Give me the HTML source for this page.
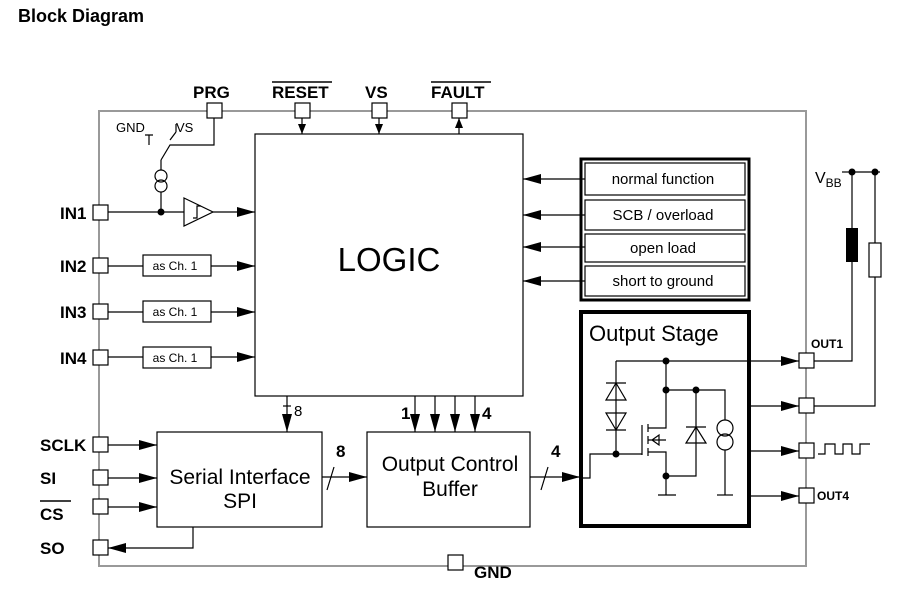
<!DOCTYPE html>
<html><head><style>body{margin:0;background:#fff}svg{display:block}text{font-family:"Liberation Sans",Arial,sans-serif}</style></head><body>
<svg width="921" height="608" viewBox="0 0 921 608" xmlns="http://www.w3.org/2000/svg">
<defs><marker id="a" markerWidth="10" markerHeight="8" refX="10" refY="4" orient="auto" markerUnits="userSpaceOnUse"><path d="M0,0L10,4L0,8z" fill="#000"/></marker>
<marker id="b" markerWidth="18" markerHeight="10" refX="18" refY="5" orient="auto" markerUnits="userSpaceOnUse"><path d="M0,0L18,5L0,10z" fill="#000"/></marker></defs>
<text x="18" y="22" font-size="18" font-weight="bold">Block Diagram</text>
<rect x="99" y="111" width="707" height="455" fill="none" stroke="#999" stroke-width="2"/>
<g font-weight="bold" font-size="17">
<text x="193" y="98">PRG</text><text x="272" y="98">RESET</text><text x="365" y="98">VS</text><text x="431" y="98">FAULT</text>
<text x="60" y="219">IN1</text><text x="60" y="272">IN2</text><text x="60" y="318">IN3</text><text x="60" y="364">IN4</text>
<text x="40" y="451">SCLK</text><text x="40" y="484">SI</text><text x="40" y="520">CS</text><text x="40" y="554">SO</text>
<text x="474" y="578">GND</text></g>
<g stroke="#000" stroke-width="1.5"><line x1="272" y1="82" x2="332" y2="82"/><line x1="431" y1="82" x2="491" y2="82"/><line x1="40" y1="501" x2="71" y2="501"/></g>
<g fill="#fff" stroke="#000" stroke-width="1.2">
<rect x="207" y="103" width="15" height="15"/><rect x="295" y="103" width="15" height="15"/><rect x="372" y="103" width="15" height="15"/><rect x="452" y="103" width="15" height="15"/>
<rect x="93" y="205" width="15" height="15"/><rect x="93" y="258" width="15" height="15"/><rect x="93" y="304" width="15" height="15"/><rect x="93" y="350" width="15" height="15"/>
<rect x="93" y="437" width="15" height="15"/><rect x="93" y="470" width="15" height="15"/><rect x="93" y="499" width="15" height="15"/><rect x="93" y="540" width="15" height="15"/>
<rect x="448" y="555" width="15" height="15"/>
<rect x="799" y="353" width="15" height="15"/><rect x="799" y="398" width="15" height="15"/><rect x="799" y="443" width="15" height="15"/><rect x="799" y="488" width="15" height="15"/>
<rect x="255" y="134" width="268" height="262"/>
<rect x="143" y="255" width="68" height="21"/><rect x="143" y="301" width="68" height="21"/><rect x="143" y="347" width="68" height="21"/>
<rect x="157" y="432" width="165" height="95"/><rect x="367" y="432" width="163" height="95"/>
<rect x="585" y="163" width="160" height="32"/><rect x="585" y="200" width="160" height="30"/><rect x="585" y="234" width="160" height="28"/><rect x="585" y="266" width="160" height="30"/>
</g>
<rect x="581" y="159" width="168" height="141" fill="none" stroke="#000" stroke-width="3"/>
<rect x="581" y="312" width="168" height="214" fill="none" stroke="#000" stroke-width="4"/>
<text x="389" y="271" font-size="33" text-anchor="middle">LOGIC</text>
<g font-size="15" text-anchor="middle"><text x="663" y="184">normal function</text><text x="663" y="220">SCB / overload</text><text x="663" y="253">open load</text><text x="663" y="286">short to ground</text></g>
<g font-size="12" text-anchor="middle"><text x="175" y="270">as Ch. 1</text><text x="175" y="316">as Ch. 1</text><text x="175" y="362">as Ch. 1</text></g>
<g font-size="21" text-anchor="middle"><text x="240" y="484">Serial Interface</text><text x="240" y="508">SPI</text><text x="450" y="471">Output Control</text><text x="450" y="496">Buffer</text></g>
<text x="589" y="341" font-size="22">Output Stage</text>
<g stroke="#000" stroke-width="1.2" fill="none">
<line x1="302" y1="118" x2="302" y2="134" marker-end="url(#a)"/><line x1="379" y1="118" x2="379" y2="134" marker-end="url(#a)"/><line x1="459" y1="134" x2="459" y2="118" marker-end="url(#a)"/>
<polyline points="214,118 214,145 170,145 161,160"/><line x1="161" y1="160" x2="161" y2="170"/>
<path d="M145,135h8M149,135v10M170,140l6,-8M176,132v-8"/>
<circle cx="161" cy="176" r="6"/><circle cx="161" cy="186" r="6"/>
<line x1="161" y1="192" x2="161" y2="212"/><line x1="108" y1="212" x2="184" y2="212"/>
<path d="M184,198L213,212L184,226Z"/><path d="M193,218h4v-12h4"/>
<line x1="213" y1="212" x2="255" y2="212" marker-end="url(#b)"/>
<line x1="108" y1="266" x2="143" y2="266"/><line x1="211" y1="266" x2="255" y2="266" marker-end="url(#b)"/>
<line x1="108" y1="312" x2="143" y2="312"/><line x1="211" y1="312" x2="255" y2="312" marker-end="url(#b)"/>
<line x1="108" y1="357" x2="143" y2="357"/><line x1="211" y1="357" x2="255" y2="357" marker-end="url(#b)"/>
<line x1="585" y1="179" x2="523" y2="179" marker-end="url(#b)"/><line x1="585" y1="215" x2="523" y2="215" marker-end="url(#b)"/><line x1="585" y1="247" x2="523" y2="247" marker-end="url(#b)"/><line x1="585" y1="281" x2="523" y2="281" marker-end="url(#b)"/>
<line x1="108" y1="445" x2="157" y2="445" marker-end="url(#b)"/><line x1="108" y1="478" x2="157" y2="478" marker-end="url(#b)"/><line x1="108" y1="507" x2="157" y2="507" marker-end="url(#b)"/>
<polyline points="193,527 193,548 108,548" marker-end="url(#b)"/>
<line x1="287" y1="396" x2="287" y2="432" marker-end="url(#b)"/><line x1="283" y1="406" x2="291" y2="406"/>
<line x1="415" y1="396" x2="415" y2="432" marker-end="url(#b)"/><line x1="435" y1="396" x2="435" y2="432" marker-end="url(#b)"/><line x1="455" y1="396" x2="455" y2="432" marker-end="url(#b)"/><line x1="475" y1="396" x2="475" y2="432" marker-end="url(#b)"/>
<line x1="322" y1="477" x2="367" y2="477" marker-end="url(#b)"/><line x1="327" y1="490" x2="334" y2="467"/>
<line x1="530" y1="477" x2="580" y2="477" marker-end="url(#b)"/><line x1="541" y1="490" x2="548" y2="467"/>
<polyline points="580,478 590,478 590,454 642,454"/><line x1="642" y1="425" x2="642" y2="455"/>
<line x1="616" y1="361" x2="616" y2="454"/><line x1="616" y1="361" x2="799" y2="361" marker-end="url(#b)"/>
<path d="M606,383h20M606,400h20l-10,-17z M606,413h20l-10,17z M606,430h20"/>
<line x1="648" y1="424" x2="648" y2="432"/><line x1="648" y1="436" x2="648" y2="444"/><line x1="648" y1="448" x2="648" y2="456"/>
<polyline points="648,428 666,428 666,361"/><polyline points="648,452 666,452 666,495"/><path d="M648,440h18M652,440l7,-5v10z"/>
<line x1="658" y1="495" x2="676" y2="495"/>
<polyline points="666,390 725,390 725,420"/><line x1="725" y1="450" x2="725" y2="495"/><line x1="717" y1="495" x2="733" y2="495"/>
<circle cx="725" cy="428" r="8"/><circle cx="725" cy="442" r="8"/>
<polyline points="696,390 696,476 666,476"/><path d="M686,427h20M686,443h20l-10,-16z"/>
<line x1="750" y1="406" x2="799" y2="406" marker-end="url(#b)"/><line x1="750" y1="451" x2="799" y2="451" marker-end="url(#b)"/><line x1="750" y1="496" x2="799" y2="496" marker-end="url(#b)"/>
<polyline points="818,454 825,454 825,444 835,444 835,454 843,454 843,444 852,444 852,454 860,454 860,444 870,444"/>
<polyline points="814,361 852,361 852,172 880,172"/><polyline points="814,406 875,406 875,172"/><line x1="842" y1="172" x2="852" y2="172"/>
</g>
<rect x="846" y="228" width="12" height="34" fill="#000"/><rect x="869" y="243" width="12" height="34" fill="#fff" stroke="#000" stroke-width="1.2"/>
<g fill="#000"><circle cx="161" cy="212" r="3.5"/><circle cx="616" cy="454" r="3.5"/><circle cx="666" cy="361" r="3.5"/><circle cx="666" cy="390" r="3.5"/><circle cx="696" cy="390" r="3.5"/><circle cx="666" cy="476" r="3.5"/><circle cx="852" cy="172" r="3.5"/><circle cx="875" cy="172" r="3.5"/></g>
<text x="116" y="132" font-size="13">GND</text><text x="176" y="132" font-size="13">VS</text>
<text x="815" y="183" font-size="16">V<tspan font-size="12" dy="4">BB</tspan></text>
<g font-weight="bold" font-size="12"><text x="811" y="348">OUT1</text><text x="817" y="500">OUT4</text></g>
<text x="294" y="416" font-size="15">8</text>
<g font-weight="bold" font-size="17"><text x="401" y="419">1</text><text x="482" y="419">4</text><text x="336" y="457">8</text><text x="551" y="457">4</text></g>
</svg>
</body></html>
